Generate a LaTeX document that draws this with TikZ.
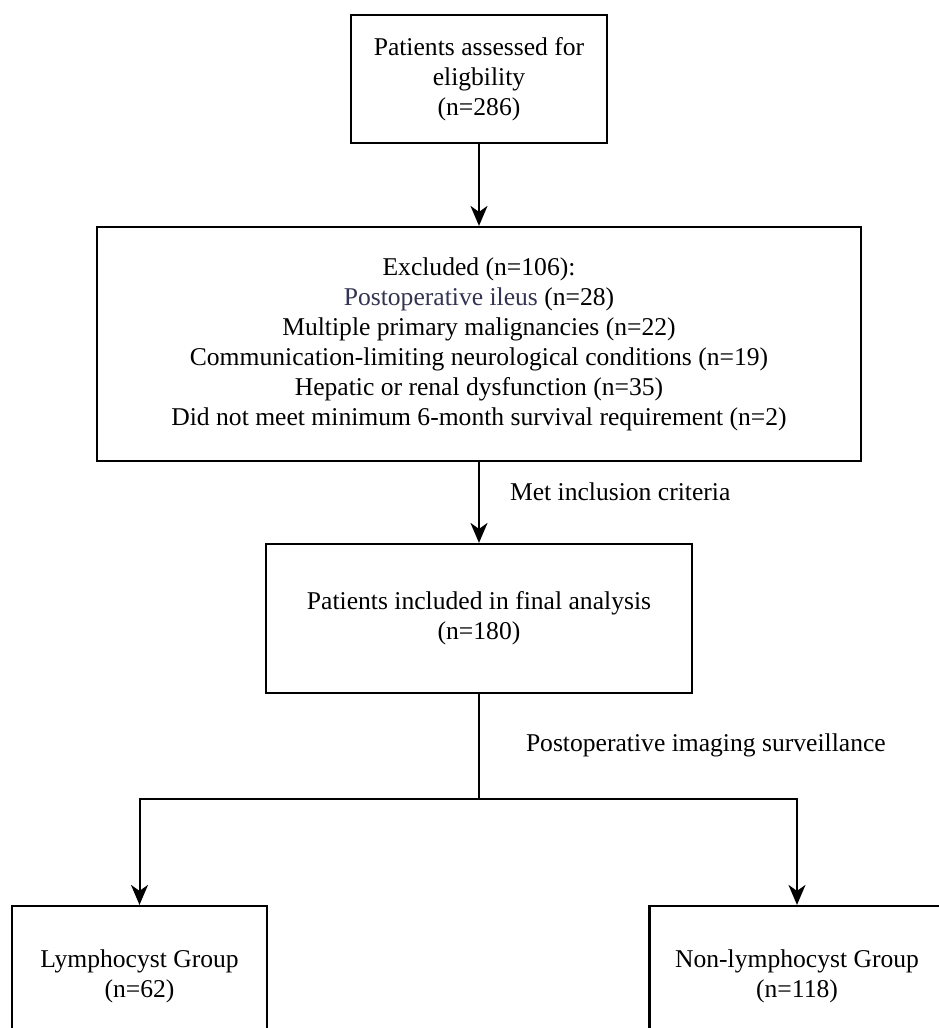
\documentclass[tikz,border=0pt]{standalone}
\usepackage{fontspec}
\setmainfont{Liberation Serif}
\usetikzlibrary{arrows.meta,positioning}
\definecolor{ileusgray}{RGB}{52,52,82}

\begin{document}
\begin{tikzpicture}[
    x=0.5pt, y=-0.5pt,
    >={Stealth[length=10pt,width=8.5pt,inset=3pt]},
    line width=1pt,
    box/.style={draw, line width=1.1pt, align=center, font=\fontsize{12.8}{15}\selectfont},
    lbl/.style={anchor=west, inner sep=0pt, font=\fontsize{12.8}{15}\selectfont}
]
  \useasboundingbox (0,0) rectangle (938,1028);

  % Screening
  \node[box, minimum width=128pt, minimum height=64pt] (assess) at (479,79) {Patients assessed for\\eligbility\\(n=286)};
  \node[box, minimum width=382pt, minimum height=117pt] (excl) at (479,344) {Excluded (n=106):\\\textcolor{ileusgray}{Postoperative ileus} (n=28)\\Multiple primary malignancies (n=22)\\Communication-limiting neurological conditions (n=19)\\Hepatic or renal dysfunction (n=35)\\Did not meet minimum 6-month survival requirement (n=2)};
  \node[box, minimum width=213pt, minimum height=74.5pt] (final) at (479,618.5) {Patients included in final analysis\\(n=180)};

  % Groups
  \node[box, minimum width=127.5pt, minimum height=70pt] (lymph) at (139.5,976) {Lymphocyst Group\\(n=62)};
  \node[box, minimum width=147.5pt, minimum height=70pt] (nonlymph) at (797,976) {Non-lymphocyst Group\\(n=118)};

  % Connectors
  \draw[->] (assess) -- (excl);
  \draw[->] (excl) -- (final);
  \node[lbl] (met) at (509,492) {Met inclusion criteria};
  \coordinate (split) at (479,799);
  \draw (final) -- (split);
  \node[lbl] (surv) at (525,745) {Postoperative imaging surveillance};
  \draw[->] (split) -| (lymph);
  \draw[->] (split) -| (nonlymph);
\end{tikzpicture}
\end{document}
